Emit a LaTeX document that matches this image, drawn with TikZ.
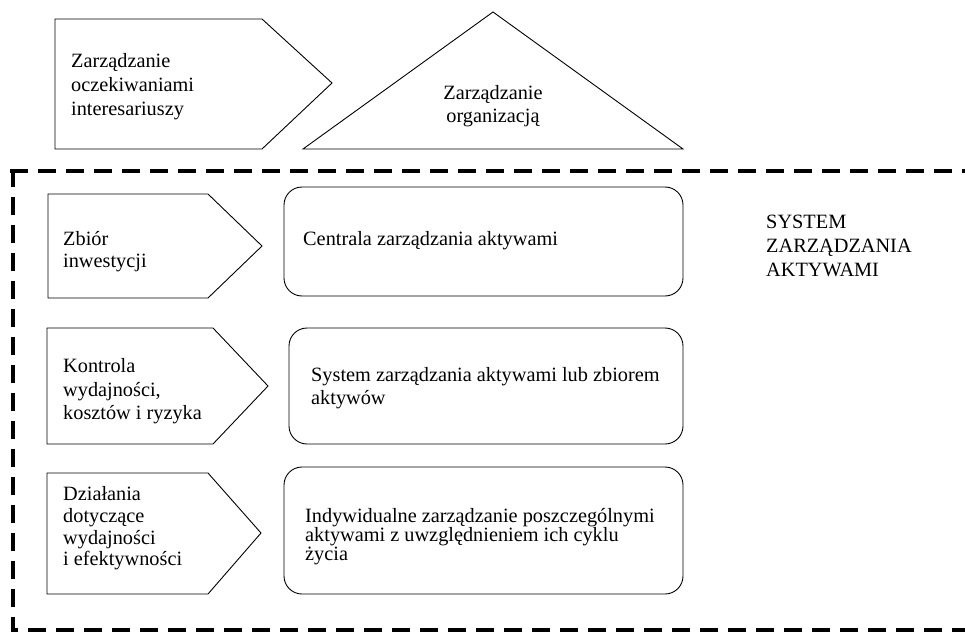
\documentclass[tikz,border=0pt]{standalone}
\usepackage{fontspec}
\setmainfont{Liberation Serif}
\begin{document}
\begin{tikzpicture}[x=1pt,y=-1pt,
  pent/.style={draw, line width=0.9pt, line join=miter},
  rbox/.style={draw, line width=0.9pt, rounded corners=18pt},
  dashframe/.style={line width=3.6pt, dash pattern=on 18pt off 10pt},
  txt/.style={inner sep=0pt, align=left, anchor=west, font=\fontsize{20.3}{#1}\selectfont},
  txt/.default=23]
\useasboundingbox (0,0) rectangle (965,631);
\clip (0,0) rectangle (965,631);

% dashed frame
\draw[dashframe] (10,171) -- (975,171);
\draw[dashframe] (13,169.2) -- (13,630) -- (975,630);

% top shapes
\draw[pent] (55,19) -- (262,19) -- (332,83) -- (262,149) -- (55,149) -- cycle;
\draw[pent] (303,149) -- (493,12) -- (683,149) -- cycle;

% left pentagons
\draw[pent] (48,194) -- (208,194) -- (262,246) -- (208,298) -- (48,298) -- cycle;
\draw[pent] (47,328) -- (213,328) -- (268,386) -- (213,444) -- (47,444) -- cycle;
\draw[pent] (47,473) -- (208,473) -- (261,533) -- (208,594) -- (47,594) -- cycle;

% rounded boxes
\draw[rbox] (284,187) rectangle (683,296);
\draw[rbox] (289,328) rectangle (683,444);
\draw[rbox] (284,467) rectangle (683,594);

% texts
\node[txt=24] (t1) at (71,87) {Zarządzanie\\oczekiwaniami\\interesariuszy};
\node[txt=23, align=center, anchor=center] (t2) at (493,106.5) {Zarządzanie\\organizacją};
\node[txt=22] (t3) at (63,251.5) {Zbiór\\inwestycji};
\node[txt=23.5] (t4) at (63,391.5) {Kontrola\\wydajności,\\kosztów i ryzyka};
\node[txt=21.7] (t5) at (63,528.5) {Działania\\dotyczące\\wydajności\\i efektywności};
\node[txt] (t6) at (303,241) {Centrala zarządzania aktywami};
\node[txt=23] (t7) at (311,388.5) {System zarządzania aktywami lub zbiorem\\aktywów};
\node[txt=17.7] (t8) at (305,536.5) {Indywidualne zarządzanie poszczególnymi\\aktywami z uwzględnieniem ich cyklu\\życia};
\node[txt=24] (t9) at (766,246) {SYSTEM\\ZARZĄDZANIA\\AKTYWAMI};
\end{tikzpicture}
\end{document}
